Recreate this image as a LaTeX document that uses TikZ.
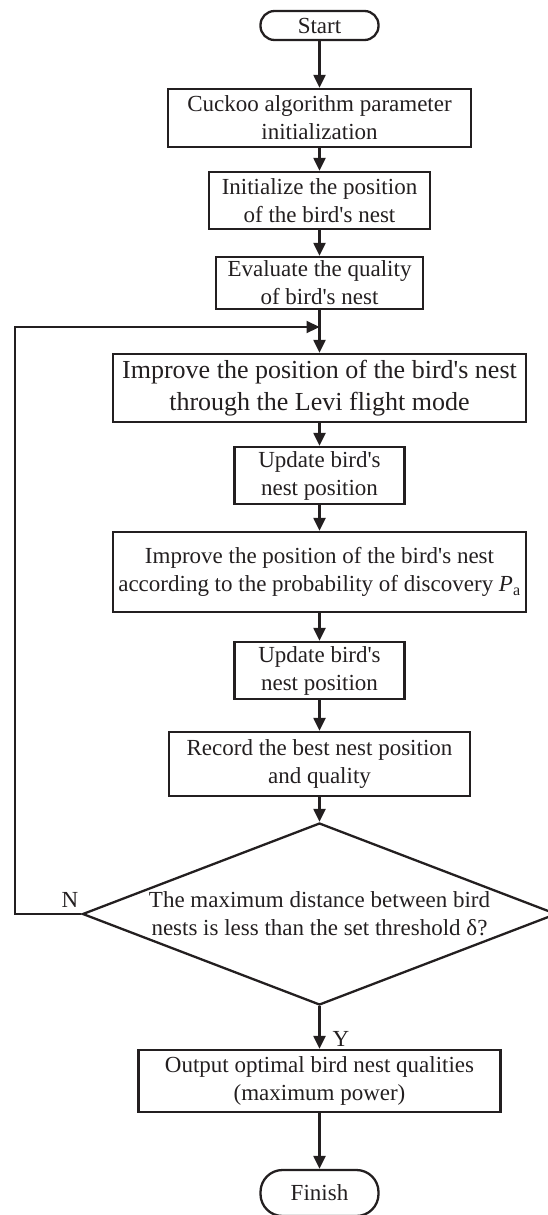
\documentclass[tikz,border=0pt]{standalone}
\usepackage{fontspec}
\setmainfont{Liberation Serif}[Ligatures=TeXOff]
\usetikzlibrary{arrows.meta,shapes.geometric}
\definecolor{ink}{HTML}{231F20}
\begin{document}
\begin{tikzpicture}[x=1pt,y=-1pt,
  box/.style={draw=ink, text=ink, line width=2.3pt, inner sep=0pt, align=center, font=\fontsize{23}{28}\selectfont},
  bigbox/.style={box, font=\fontsize{26}{32}\selectfont},
  term/.style={box, rounded corners=14pt},
  arr/.style={draw=ink, line width=2.2pt, -{Triangle[length=13pt,width=12pt]}},
  lab/.style={text=ink, font=\fontsize{23}{28}\selectfont, inner sep=0pt}]
\useasboundingbox (0,0) rectangle (548,1215);
\node[term, minimum width=118pt, minimum height=29pt] (start) at (319.5,25.5) {Start};
\node[box, minimum width=303pt, minimum height=58pt] (b1) at (319.5,118) {Cuckoo algorithm parameter\\initialization};
\node[box, minimum width=221pt, minimum height=57pt] (b2) at (319.5,200.5) {Initialize the position\\of the bird's nest};
\node[box, minimum width=207pt, minimum height=52pt] (b3) at (319.5,283) {Evaluate the quality\\of bird's nest};
\node[bigbox, minimum width=413pt, minimum height=68pt] (b4) at (319.5,388) {Improve the position of the bird's nest\\through the Levi flight mode};
\node[box, minimum width=170pt, minimum height=57pt] (b5) at (319.5,475.5) {Update bird's\\nest position};
\node[box, minimum width=413pt, minimum height=80pt] (b6) at (319.5,572) {Improve the position of the bird's nest\\according to the probability of discovery \textit{P}\textsubscript{a}};
\node[box, minimum width=170pt, minimum height=57pt] (b7) at (319.5,670.5) {Update bird's\\nest position};
\node[box, minimum width=301pt, minimum height=64pt] (b8) at (319.5,764) {Record the best nest position\\and quality};
\node[box, diamond, shape aspect=2.6, minimum width=474pt, minimum height=182pt, inner sep=-4pt] (dec) at (319.5,914) {The maximum distance between bird\\nests is less than the set threshold δ?};
\node[box, minimum width=362pt, minimum height=62pt] (out) at (319.5,1081) {Output optimal bird nest qualities\\(maximum power)};
\node[box, rounded corners=22pt, minimum width=118pt, minimum height=46pt] (fin) at (319.5,1193) {Finish};
\node[lab] (nlab) at (70,900) {N};
\node[lab] (ylab) at (341,1039) {Y};
\coordinate (jn) at (319.5,327);
\coordinate (lt) at (15,327);
\draw[arr] (start.south) -- (b1.north);
\draw[arr] (b1.south) -- (b2.north);
\draw[arr] (b2.south) -- (b3.north);
\draw[arr] (b3.south) -- (b4.north);
\draw[arr] (b4.south) -- (b5.north);
\draw[arr] (b5.south) -- (b6.north);
\draw[arr] (b6.south) -- (b7.north);
\draw[arr] (b7.south) -- (b8.north);
\draw[arr] (b8.south) -- (dec.north);
\draw[arr] (dec.south) -- (out.north);
\draw[arr] (out.south) -- (fin.north);
\draw[arr] (dec.west) -| (lt) -- (jn);
\end{tikzpicture}
\end{document}
